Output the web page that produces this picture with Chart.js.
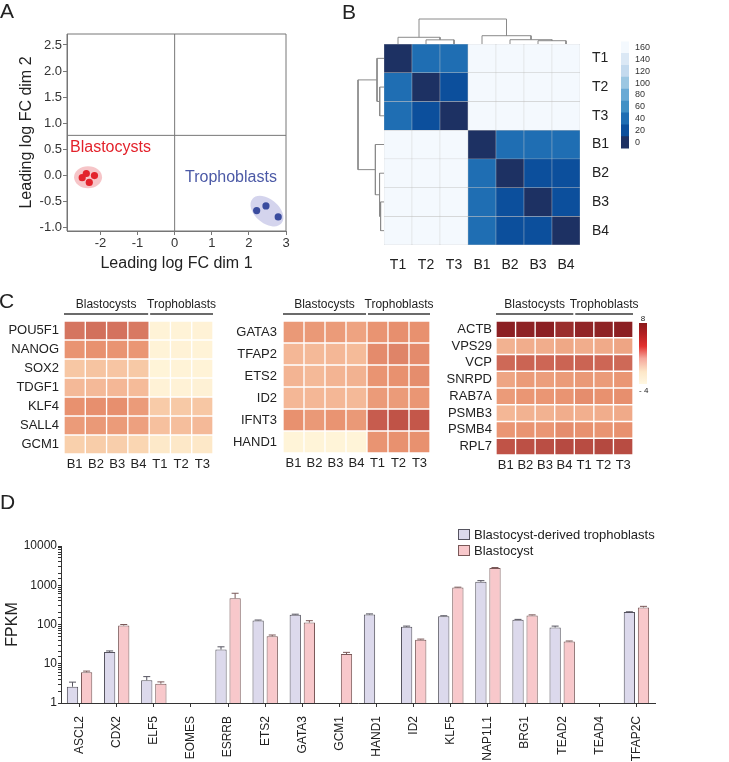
<!DOCTYPE html>
<html>
<head>
<meta charset="utf-8">
<script src="https://cdn.jsdelivr.net/npm/chart.js@4.4.1/dist/chart.umd.min.js"></script>
<style>
body{margin:0;background:#fff;font-family:"Liberation Sans",Arial,sans-serif;color:#222}
#fig{position:relative;width:729px;height:762px;overflow:hidden}
canvas{position:absolute}
.t{position:absolute;white-space:nowrap;line-height:1}
.sw{position:absolute;width:10px;height:9px}
</style>
</head>
<body>
<div id="fig">
  <canvas id="cA" width="300" height="275" style="left:0;top:0"></canvas>
  <canvas id="cBtop" width="196" height="27" style="left:384px;top:17px"></canvas>
  <canvas id="cBleft" width="28" height="201" style="left:356px;top:44px"></canvas>
  <canvas id="cB" width="300" height="280" style="left:340px;top:0"></canvas>
  <canvas id="cBbar" width="60" height="130" style="left:615px;top:30px"></canvas>
  <canvas id="cC1" width="225" height="190" style="left:0;top:290px"></canvas>
  <canvas id="cC2" width="215" height="190" style="left:225px;top:290px"></canvas>
  <canvas id="cC3" width="200" height="190" style="left:440px;top:290px"></canvas>
  <canvas id="cCbar" width="20" height="80" style="left:635px;top:315px"></canvas>
  <canvas id="cD" width="729" height="262" style="left:0;top:500px"></canvas>

  <div class="t" style="left:0;top:0;font-size:21px">A</div>
  <div class="t" style="left:342px;top:1px;font-size:21px">B</div>
  <div class="t" style="left:-1px;top:290px;font-size:21px">C</div>
  <div class="t" style="left:0;top:491px;font-size:21px">D</div>

  <div class="t" style="left:70px;top:139px;font-size:16px;color:#e3222b">Blastocysts</div>
  <div class="t" style="left:185px;top:169px;font-size:16px;color:#4b59a6">Trophoblasts</div>

  <div class="t" style="left:633px;top:315px;width:20px;text-align:center;font-size:8px">8</div>
  <div class="t" style="left:639px;top:387px;font-size:8px">- 4</div>

  <div class="sw" style="left:458px;top:529px;background:#dcd9ec;border:1px solid #55535f"></div>
  <div class="t" style="left:474px;top:528px;font-size:13px">Blastocyst-derived trophoblasts</div>
  <div class="sw" style="left:458px;top:545px;background:#f8c8cb;border:1px solid #7a5858"></div>
  <div class="t" style="left:474px;top:544px;font-size:13px">Blastocyst</div>
</div>

<script>
// ---- A: MDS plot
const blastoDim1 = [-2.49, -2.38, -2.16, -2.30];
const blastoDim2 = [-0.04, 0.04, 0.00, -0.13];
const trophoDim1 = [2.21, 2.46, 2.79];
const trophoDim2 = [-0.67, -0.58, -0.79];
const mdsXTicks = [-2, -1, 0, 1, 2, 3];
const mdsYTicks = [-1, -0.5, 0, 0.5, 1, 1.5, 2, 2.5];

// ---- B: sample distance heatmap
const samplesB = ['T1', 'T2', 'T3', 'B1', 'B2', 'B3', 'B4'];
const distB = [
  [0, 45, 47, 175, 175, 175, 175],
  [45, 0, 25, 175, 175, 175, 175],
  [47, 25, 0, 175, 175, 175, 175],
  [175, 175, 175, 0, 43, 45, 44],
  [175, 175, 175, 43, 0, 22, 24],
  [175, 175, 175, 45, 22, 0, 21],
  [175, 175, 175, 44, 24, 21, 0]
];
// merges: [nodeA, nodeB, height], new nodes numbered from 7
const dendroMerges = [[1, 2, 29], [0, 7, 47], [5, 6, 23], [4, 9, 30], [3, 10, 58], [8, 11, 175]];
const distTicks = [0, 20, 40, 60, 80, 100, 120, 140, 160];
const blueBands = ['#1d3163', '#0c4f9c', '#1f6eb3', '#4190c5', '#6aaad5', '#9cc7e2', '#c4daee', '#dbe8f5', '#f4f9fe'];

// ---- C: expression heatmaps
const samplesC = ['B1', 'B2', 'B3', 'B4', 'T1', 'T2', 'T3'];
const c1Genes = ['POU5F1', 'NANOG', 'SOX2', 'TDGF1', 'KLF4', 'SALL4', 'GCM1'];
const c1Vals = [
  [4.3, 4.5, 4.4, 4.1, -3.6, -3.6, -3.5],
  [2.9, 3.0, 2.9, 2.8, -3.6, -3.5, -3.6],
  [0.6, 0.8, 0.7, 0.5, -3.7, -3.6, -3.6],
  [1.4, 1.4, 1.5, 1.3, -3.5, -3.5, -3.4],
  [3.0, 3.1, 3.1, 2.6, 0.4, 0.5, 0.6],
  [2.6, 2.7, 2.6, 2.4, 1.0, 1.1, 1.4],
  [0.1, 0.3, 0.2, -0.4, -2.4, -2.3, -2.3]
];
const c2Genes = ['GATA3', 'TFAP2', 'ETS2', 'ID2', 'IFNT3', 'HAND1'];
const c2Vals = [
  [2.7, 2.7, 2.6, 2.3, 2.9, 3.1, 3.0],
  [1.5, 1.4, 1.5, 1.3, 3.3, 3.6, 3.3],
  [1.6, 1.4, 1.6, 1.7, 2.9, 3.0, 3.2],
  [1.5, 1.5, 1.5, 1.4, 2.6, 2.6, 2.8],
  [3.0, 2.7, 2.9, 2.7, 5.3, 5.7, 5.5],
  [-3.7, -3.7, -3.7, -3.7, 2.9, 3.0, 3.0]
];
const c3Genes = ['ACTB', 'VPS29', 'VCP', 'SNRPD', 'RAB7A', 'PSMB3', 'PSMB4', 'RPL7'];
const c3Vals = [
  [7.8, 7.7, 7.8, 7.3, 7.6, 7.7, 7.8],
  [1.7, 1.9, 1.9, 2.1, 1.9, 2.0, 2.2],
  [4.8, 5.0, 4.9, 5.0, 5.0, 4.9, 4.8],
  [2.2, 2.6, 2.5, 2.6, 2.7, 2.6, 2.8],
  [2.6, 2.8, 2.8, 2.9, 3.2, 3.0, 3.1],
  [1.5, 1.7, 1.7, 1.9, 1.8, 1.9, 2.0],
  [2.8, 2.9, 2.8, 3.2, 3.0, 2.9, 3.0],
  [5.7, 5.9, 6.0, 6.2, 6.1, 6.3, 6.1]
];
const exprRange = [-4, 8];

// ---- D: FPKM bars
const genesD = ['ASCL2', 'CDX2', 'ELF5', 'EOMES', 'ESRRB', 'ETS2', 'GATA3', 'GCM1', 'HAND1', 'ID2', 'KLF5', 'NAP1L1', 'BRG1', 'TEAD2', 'TEAD4', 'TFAP2C'];
const trophoFPKM = [2.6, 20, 3.8, null, 23, 127, 178, null, 180, 87, 163, 1220, 132, 84, null, 207];
const trophoErr = [0.8, 1.2, 0.9, null, 4, 3, 5, null, 6, 4, 4, 90, 3, 7, null, 4];
const blastoFPKM = [6.1, 94, 3.1, null, 465, 50, 112, 17.7, null, 41, 873, 2770, 170, 37, null, 272];
const blastoErr = [0.4, 6, 0.35, null, 160, 4, 13, 1.8, null, 1.5, 20, 60, 6, 1, null, 18];

Chart.defaults.font.family = '"Liberation Sans", Arial, sans-serif';
Chart.defaults.color = '#222';
Chart.defaults.animation = false;
Chart.defaults.plugins.legend.display = false;
Chart.defaults.plugins.tooltip.enabled = false;

const fixW = w => s => { s.width = w; };
const fixH = h => s => { s.height = h; };
const tickList = list => s => { s.ticks = list.map(v => ({ value: v })); };
const noAxisLines = { grid: { display: false, drawTicks: false }, border: { display: false } };

// red/cream scale for C
const exprStops = [[-4, '#fff6dc'], [-2, '#fde6c4'], [0, '#f9d2ae'], [1.5, '#f4b796'], [3, '#e8916f'],
  [4.3, '#d57560'], [5.5, '#c4574a'], [6.5, '#b0453d'], [8, '#861a1f']];
function hex(c) { return [1, 3, 5].map(i => parseInt(c.slice(i, i + 2), 16)); }
function exprColor(v) {
  let i = 0;
  while (i < exprStops.length - 2 && v > exprStops[i + 1][0]) i++;
  const [v0, c0] = exprStops[i], [v1, c1] = exprStops[i + 1];
  const t = Math.max(0, Math.min(1, (v - v0) / (v1 - v0)));
  const a = hex(c0), b = hex(c1);
  return 'rgb(' + a.map((x, k) => Math.round(x + (b[k] - x) * t)).join(',') + ')';
}
const bandColor = v => blueBands[Math.max(0, Math.min(blueBands.length - 1, Math.round(v / 20)))];

function heatDatasets(matrix, colorFn, border, bw) {
  return matrix.map((row, r) => ({
    data: row.map(() => [r - 0.5, r + 0.5]),
    backgroundColor: row.map(colorFn),
    borderColor: border, borderWidth: bw, borderSkipped: false,
    grouped: false, categoryPercentage: 1, barPercentage: 1
  }));
}

// ---- plugins
const quadrantFrame = {
  id: 'quadrantFrame',
  beforeDatasetsDraw(chart, args, opts) {
    const { ctx, chartArea: a, scales: { x, y } } = chart;
    const px = x.getPixelForValue(opts.x), py = y.getPixelForValue(opts.y);
    ctx.save();
    ctx.strokeStyle = '#777'; ctx.lineWidth = 1;
    ctx.beginPath();
    ctx.moveTo(px, a.top); ctx.lineTo(px, a.bottom);
    ctx.moveTo(a.left, py); ctx.lineTo(a.right, py);
    ctx.rect(a.left, a.top, a.width, a.height);
    ctx.stroke();
    ctx.restore();
  }
};

const clusterHalo = {
  id: 'clusterHalo',
  beforeDatasetsDraw(chart, args, opts) {
    const { ctx, scales: { x, y } } = chart;
    chart.data.datasets.forEach((ds, i) => {
      const h = opts.halos[i];
      const cx = ds.data.reduce((s, p) => s + x.getPixelForValue(p.x), 0) / ds.data.length;
      const cy = ds.data.reduce((s, p) => s + y.getPixelForValue(p.y), 0) / ds.data.length;
      ctx.save();
      ctx.fillStyle = h.color;
      ctx.beginPath();
      ctx.ellipse(cx, cy, h.rx, h.ry, h.rot * Math.PI / 180, 0, 2 * Math.PI);
      ctx.fill();
      ctx.restore();
    });
  }
};

const groupHeader = {
  id: 'groupHeader',
  afterDraw(chart, args, opts) {
    const { ctx, chartArea: a, scales: { x } } = chart;
    const n = chart.data.labels.length;
    const half = (x.getPixelForValue(1) - x.getPixelForValue(0)) / 2;
    ctx.save();
    ctx.font = '12px "Liberation Sans", Arial, sans-serif';
    ctx.textAlign = 'center';
    ctx.textBaseline = 'middle';
    ctx.fillStyle = '#222';
    ctx.strokeStyle = '#3a3a3a';
    ctx.lineWidth = 1.5;
    opts.groups.forEach(g => {
      const l = x.getPixelForValue(g.from) - half + (g.from > 0 ? 1 : 0);
      const r = x.getPixelForValue(g.to) + half - (g.to < n - 1 ? 1 : 0);
      ctx.beginPath();
      ctx.moveTo(l, a.top - 7); ctx.lineTo(r, a.top - 7);
      ctx.stroke();
      ctx.fillText(g.label, (l + r) / 2, a.top - 16);
    });
    ctx.restore();
  }
};

const errorBars = {
  id: 'errorBars',
  afterDatasetsDraw(chart) {
    const { ctx, scales: { y } } = chart;
    chart.data.datasets.forEach((ds, i) => {
      const meta = chart.getDatasetMeta(i);
      ctx.save();
      ctx.strokeStyle = ds.borderColor;
      ctx.lineWidth = 1;
      meta.data.forEach((bar, j) => {
        const v = ds.data[j], e = ds.errors[j];
        if (v == null || e == null) return;
        const yt = y.getPixelForValue(v + e);
        ctx.beginPath();
        ctx.moveTo(bar.x, bar.y); ctx.lineTo(bar.x, yt);
        ctx.moveTo(bar.x - 3.5, yt); ctx.lineTo(bar.x + 3.5, yt);
        ctx.stroke();
      });
      ctx.restore();
    });
  }
};

// ---- A
new Chart(document.getElementById('cA'), {
  type: 'scatter',
  data: {
    datasets: [
      { data: blastoDim1.map((v, i) => ({ x: v, y: blastoDim2[i] })), backgroundColor: '#e3232c', borderWidth: 0, pointRadius: 3.6 },
      { data: trophoDim1.map((v, i) => ({ x: v, y: trophoDim2[i] })), backgroundColor: '#3a4c9e', borderWidth: 0, pointRadius: 3.6 }
    ]
  },
  options: {
    responsive: false,
    layout: { padding: { left: 0, top: 34, right: 14, bottom: 0 } },
    scales: {
      x: {
        type: 'linear', min: -2.9, max: 3.0,
        afterFit: fixH(44), afterBuildTicks: tickList(mdsXTicks),
        grid: { drawOnChartArea: false, tickLength: 4, color: '#777' },
        border: { color: '#777' },
        ticks: { font: { size: 13 }, padding: 1, color: '#333' },
        title: { display: true, text: 'Leading log FC dim 1', font: { size: 16 }, padding: { top: 0, bottom: 2 } }
      },
      y: {
        type: 'linear', min: -1.06, max: 2.71,
        afterFit: fixW(67), afterBuildTicks: tickList(mdsYTicks),
        grid: { drawOnChartArea: false, tickLength: 4, color: '#777' },
        border: { color: '#777' },
        ticks: { font: { size: 13 }, padding: 1, color: '#333', callback: v => v.toFixed(1) },
        title: { display: true, text: 'Leading log FC dim 2', font: { size: 16 }, padding: { top: 17, bottom: 0 } }
      }
    },
    plugins: {
      quadrantFrame: { x: 0, y: 0.77 },
      clusterHalo: { halos: [
        { color: 'rgba(238,140,145,0.5)', rx: 14, ry: 11, rot: 0 },
        { color: 'rgba(160,160,215,0.45)', rx: 19, ry: 12, rot: 40 }
      ] }
    }
  },
  plugins: [quadrantFrame, clusterHalo]
});

// ---- B dendrograms
function dendroPoints(merges, nLeaves, side) {
  const pos = [], ht = [], pts = [];
  for (let i = 0; i < nLeaves; i++) { pos.push(i); ht.push(0); }
  merges.forEach(([a, b, h]) => {
    [[pos[a], ht[a]], [pos[a], h], [pos[b], h], [pos[b], ht[b]]].forEach(([p, q]) =>
      pts.push(side === 'top' ? { x: p, y: q } : { x: q, y: p }));
    pts.push({ x: null, y: null });
    pos.push((pos[a] + pos[b]) / 2);
    ht.push(h);
  });
  return pts;
}
const maxH = Math.max(...dendroMerges.map(m => m[2]));
const dendroDs = side => ({
  data: dendroPoints(dendroMerges, samplesB.length, side),
  showLine: true, spanGaps: false, pointRadius: 0, borderColor: '#8a8a8a', borderWidth: 1, clip: false
});
new Chart(document.getElementById('cBtop'), {
  type: 'scatter',
  data: { datasets: [dendroDs('top')] },
  options: {
    responsive: false,
    layout: { padding: { top: 2, left: 0, right: 0, bottom: 0 } },
    scales: {
      x: { type: 'linear', display: false, min: -0.5, max: samplesB.length - 0.5 },
      y: { type: 'linear', display: false, min: 0, max: maxH }
    }
  }
});
new Chart(document.getElementById('cBleft'), {
  type: 'scatter',
  data: { datasets: [dendroDs('left')] },
  options: {
    responsive: false,
    layout: { padding: { top: 0, left: 2, right: 0, bottom: 0 } },
    scales: {
      x: { type: 'linear', display: false, min: 0, max: maxH, reverse: true },
      y: { type: 'linear', display: false, min: -0.5, max: samplesB.length - 0.5, reverse: true }
    }
  }
});

// ---- B heatmap
new Chart(document.getElementById('cB'), {
  type: 'bar',
  data: { labels: samplesB, datasets: heatDatasets(distB, bandColor, '#c4c4c4', 0.5) },
  options: {
    responsive: false,
    layout: { padding: { left: 44, top: 44, right: 0, bottom: 0 } },
    scales: {
      x: { ...noAxisLines, afterFit: fixH(35), ticks: { font: { size: 14 }, padding: 12, autoSkip: false, maxRotation: 0 } },
      y: {
        ...noAxisLines, type: 'linear', position: 'right', reverse: true,
        min: -0.5, max: samplesB.length - 0.5,
        afterFit: fixW(60), afterBuildTicks: tickList(samplesB.map((_, i) => i)),
        ticks: { font: { size: 14 }, padding: 12, autoSkip: false, callback: v => samplesB[v] }
      }
    }
  }
});

// ---- B colour key
new Chart(document.getElementById('cBbar'), {
  type: 'bar',
  data: {
    labels: [''],
    datasets: distTicks.map((v, i) => ({
      data: [[v - 10, v + 10]], backgroundColor: blueBands[i], borderWidth: 0,
      grouped: false, categoryPercentage: 1, barPercentage: 1
    }))
  },
  options: {
    responsive: false,
    layout: { padding: { left: 6, top: 6.7, right: 0, bottom: 8.3 } },
    scales: {
      x: { display: false },
      y: {
        ...noAxisLines, type: 'linear', position: 'right', min: -10, max: 170,
        afterFit: fixW(46), afterBuildTicks: tickList(distTicks),
        ticks: { font: { size: 9 }, padding: 6, color: '#333', autoSkip: false }
      }
    }
  }
});

// ---- C heatmaps
function exprHeatmap(id, genes, vals, pad, yw, xh, labPad) {
  const nB = samplesC.filter(s => s[0] === 'B').length;
  return new Chart(document.getElementById(id), {
    type: 'bar',
    data: { labels: samplesC, datasets: heatDatasets(vals, exprColor, '#ffffff', 1) },
    options: {
      responsive: false,
      layout: { padding: pad },
      scales: {
        x: { ...noAxisLines, afterFit: fixH(xh), ticks: { font: { size: 13 }, padding: 3, autoSkip: false, maxRotation: 0 } },
        y: {
          ...noAxisLines, type: 'linear', reverse: true, min: -0.5, max: genes.length - 0.5,
          afterFit: fixW(yw), afterBuildTicks: tickList(genes.map((_, i) => i)),
          ticks: { font: { size: 13 }, padding: labPad, autoSkip: false, callback: v => genes[v] }
        }
      },
      plugins: {
        groupHeader: { groups: [
          { label: 'Blastocysts', from: 0, to: nB - 1 },
          { label: 'Trophoblasts', from: nB, to: samplesC.length - 1 }
        ] }
      }
    },
    plugins: [groupHeader]
  });
}
exprHeatmap('cC1', c1Genes, c1Vals, { left: 0, top: 31, right: 12, bottom: 0 }, 64, 26, 5);
exprHeatmap('cC2', c2Genes, c2Vals, { left: 0, top: 31, right: 10, bottom: 0 }, 58, 27, 6);
exprHeatmap('cC3', c3Genes, c3Vals, { left: 0, top: 31, right: 7, bottom: 0 }, 56, 25, 4);

// ---- C colour key
const keyStops = [[0, '#fff8e2'], [0.2, '#fde7c8'], [0.42, '#f5a79c'], [0.62, '#e3312f'], [0.82, '#b31f22'], [1, '#8a1a1c']];
new Chart(document.getElementById('cCbar'), {
  type: 'bar',
  data: {
    labels: [''],
    datasets: [{
      data: [exprRange], borderWidth: 0, categoryPercentage: 1, barPercentage: 1,
      backgroundColor: c => {
        const a = c.chart.chartArea;
        if (!a) return null;
        const g = c.chart.ctx.createLinearGradient(0, a.bottom, 0, a.top);
        keyStops.forEach(([t, col]) => g.addColorStop(t, col));
        return g;
      }
    }]
  },
  options: {
    responsive: false,
    layout: { padding: { left: 4, right: 8, top: 8, bottom: 11 } },
    scales: {
      x: { display: false },
      y: { display: false, min: exprRange[0], max: exprRange[1] }
    }
  }
});

// ---- D
const isDecade = v => Math.abs(Math.log10(v) - Math.round(Math.log10(v))) < 1e-9;
new Chart(document.getElementById('cD'), {
  type: 'bar',
  data: {
    labels: genesD,
    datasets: [
      { label: 'Blastocyst-derived trophoblasts', data: trophoFPKM, errors: trophoErr,
        backgroundColor: '#dcd9ec', borderColor: '#55535f', borderWidth: 1 },
      { label: 'Blastocyst', data: blastoFPKM, errors: blastoErr,
        backgroundColor: '#f8c8cb', borderColor: '#7a5858', borderWidth: 1 }
    ]
  },
  options: {
    responsive: false,
    layout: { padding: { left: 0, top: 46, right: 74, bottom: 0 } },
    datasets: { bar: { categoryPercentage: 0.76, barPercentage: 0.8 } },
    scales: {
      x: {
        afterFit: fixH(59),
        grid: { drawOnChartArea: false, offset: false, tickLength: 4, color: '#333' },
        border: { color: '#333' },
        ticks: { maxRotation: 90, minRotation: 90, autoSkip: false, font: { size: 12 }, padding: 9 }
      },
      y: {
        type: 'logarithmic', min: 1, max: 10000,
        afterFit: fixW(61),
        grid: { drawOnChartArea: false, tickLength: 3, color: '#333' },
        border: { color: '#333' },
        ticks: { autoSkip: false, font: { size: 12 }, padding: 1, callback: v => isDecade(v) ? String(v) : '' },
        title: { display: true, text: 'FPKM', font: { size: 16 }, padding: { top: 3, bottom: 0 } }
      }
    }
  },
  plugins: [errorBars]
});
</script>
</body>
</html>
